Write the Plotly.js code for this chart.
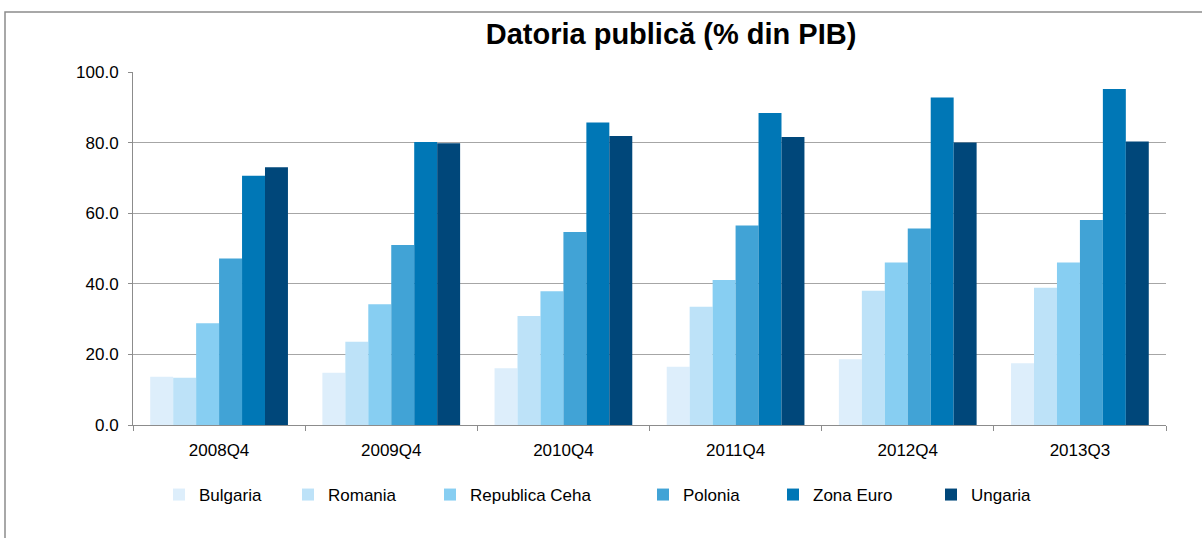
<!DOCTYPE html>
<html>
<head>
<meta charset="utf-8">
<script src="https://cdn.plot.ly/plotly-3.0.1.min.js"></script>
<style>html,body{margin:0;padding:0;background:#fff;}#chart{width:1202px;height:538px;}</style>
</head>
<body>
<div id="chart"></div>
<script>
const categories = ['2008Q4', '2009Q4', '2010Q4', '2011Q4', '2012Q4', '2013Q3'];
const seriesNames = ['Bulgaria', 'Romania', 'Republica Ceha', 'Polonia', 'Zona Euro', 'Ungaria'];
const bulgaria = [13.7, 14.8, 16.1, 16.5, 18.6, 17.5];
const romania = [13.4, 23.6, 30.9, 33.5, 38.0, 38.9];
const cehia = [28.8, 34.2, 37.9, 41.1, 46.0, 46.0];
const polonia = [47.2, 51.0, 54.7, 56.5, 55.7, 58.1];
const zonaEuro = [70.6, 80.2, 85.7, 88.4, 92.8, 95.2];
const ungaria = [73.0, 79.8, 81.9, 81.6, 80.0, 80.3];
const yTicks = [0, 20, 40, 60, 80, 100];

const values = [bulgaria, romania, cehia, polonia, zonaEuro, ungaria];
const colors = ['#DDEEFB', '#BDE2F8', '#87CEF2', '#41A3D6', '#0077B6', '#00477A'];
const legendX = [159, 288, 430, 643, 773, 931];

const W = 1202, L = 133, R = 36, T = 72, B = 113;
const pw = W - L - R, ph = 538 - T - B;

const traces = seriesNames.map((n, i) => ({
  type: 'bar', name: n, x: categories, y: values[i],
  marker: {color: colors[i], line: {width: 0}},
  legend: i === 0 ? 'legend' : 'legend' + (i + 1),
  hoverinfo: 'x+y+name'
}));

const layout = {
  width: W, height: 538,
  margin: {l: L, r: R, t: T, b: B},
  paper_bgcolor: '#fff', plot_bgcolor: '#fff',
  font: {family: 'Liberation Sans, Arial, sans-serif', size: 17, color: '#000'},
  title: {text: '<b>Datoria publică (% din PIB)</b>', font: {size: 29, color: '#000'},
    x: 671 / W, xanchor: 'center', y: 1 - 34 / 538, yanchor: 'middle'},
  barmode: 'group', bargap: 0.2, bargroupgap: 0,
  xaxis: {type: 'category', showline: true, linecolor: '#8C8C8C', linewidth: 1,
    ticks: 'outside', tickson: 'boundaries', ticklen: 5, tickcolor: '#8C8C8C',
    ticklabelstandoff: 10,
    showgrid: false, tickfont: {size: 17}, fixedrange: true},
  yaxis: {range: [0, 100], tickvals: yTicks, tickformat: '.1f', showline: true,
    linecolor: '#8C8C8C', linewidth: 1, ticks: 'outside', ticklen: 4, tickcolor: '#8C8C8C',
    ticklabelstandoff: 6,
    gridcolor: '#A6A6A6', gridwidth: 1, zeroline: false, tickfont: {size: 17}, fixedrange: true},
  showlegend: true,
  shapes: [{type: 'rect', xref: 'paper', yref: 'paper',
    x0: (5 - L) / pw, x1: (1210 - L) / pw, y0: (538 - B - 560) / ph, y1: (538 - B - 12) / ph,
    line: {color: '#8C8C8C', width: 1.5}, fillcolor: 'rgba(0,0,0,0)', layer: 'below'}]
};
seriesNames.forEach((n, i) => {
  const key = i === 0 ? 'legend' : 'legend' + (i + 1);
  layout[key] = {orientation: 'h', x: (legendX[i] - L) / pw, xanchor: 'left',
    y: (538 - B - 495) / ph, yanchor: 'middle', bgcolor: 'rgba(0,0,0,0)',
    font: {size: 17}, itemwidth: 30, tracegroupgap: 0};
});

Plotly.newPlot('chart', traces, layout, {displayModeBar: false, staticPlot: true});
</script>
</body>
</html>
